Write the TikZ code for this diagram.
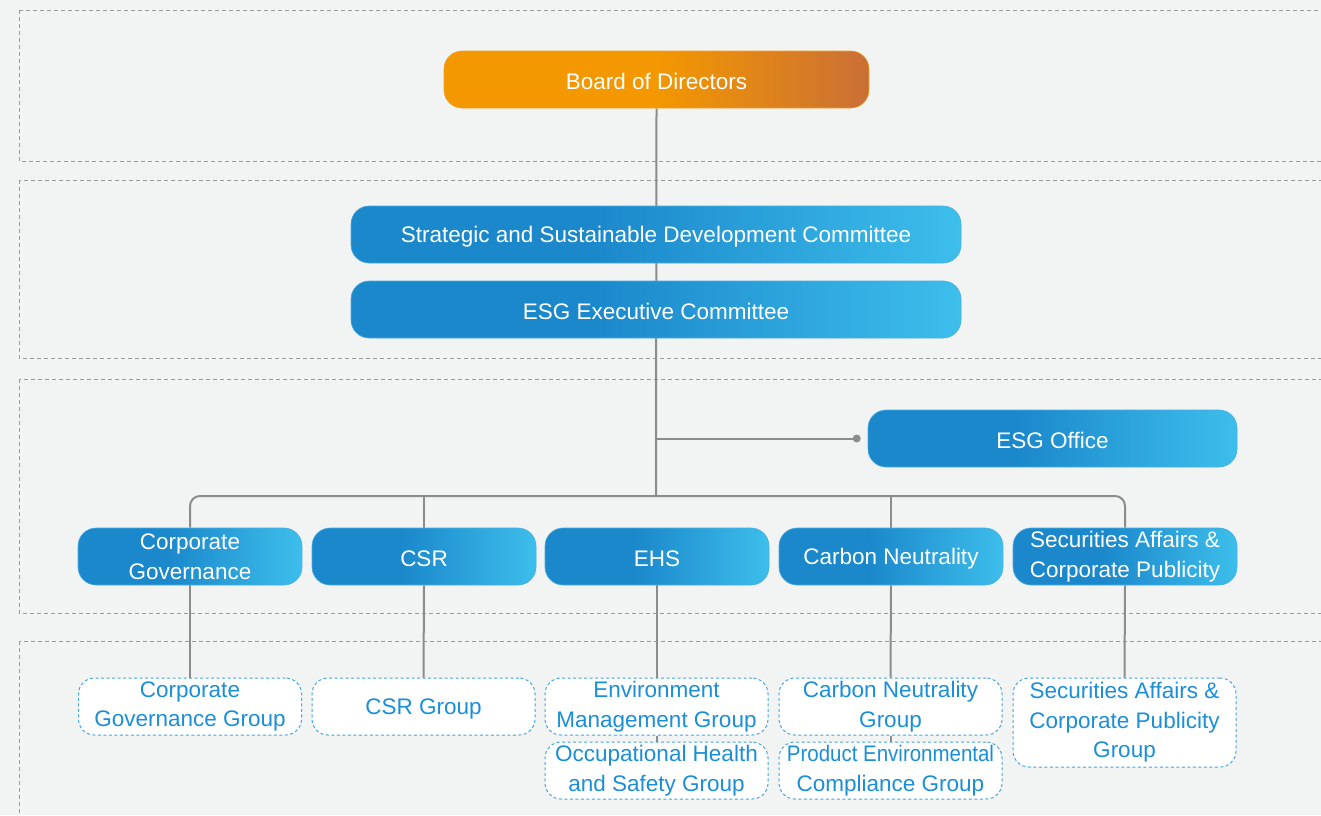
\documentclass[tikz,border=0pt]{standalone}
\usepackage{fontspec}
\setmainfont{Liberation Sans}
\usetikzlibrary{backgrounds}
\definecolor{bgcol}{HTML}{F2F3F3}
\definecolor{bandcol}{HTML}{9A9A9A}
\definecolor{conncol}{HTML}{8C8C8C}
\definecolor{blueA}{HTML}{1B88CB}
\definecolor{blueB}{HTML}{3DBEEB}
\definecolor{blueEdge}{HTML}{4AAEE2}
\definecolor{orA}{HTML}{F39800}
\definecolor{orB}{HTML}{CA6F36}
\definecolor{orEdge}{HTML}{F2A020}
\definecolor{grpText}{HTML}{1A8FD8}
\definecolor{grpEdge}{HTML}{45A5DF}
\pgfdeclarehorizontalshading{blueshade}{100bp}{color(0bp)=(blueA); color(25bp)=(blueA); color(45bp)=(blueA); color(75bp)=(blueB); color(100bp)=(blueB)}
\pgfdeclarehorizontalshading{orshade}{100bp}{color(0bp)=(orA); color(25bp)=(orA); color(50bp)=(orA); color(75bp)=(orB); color(100bp)=(orB)}
\tikzset{
  txt/.style={font=\fontsize{22.5}{29.5}\selectfont, align=center, inner sep=2pt, execute at begin node={\rule{0pt}{20pt}}},
  bluebox/.style={txt, shading=blueshade, draw=blueEdge, line width=0.6pt, rounded corners=18pt, text=white, minimum height=57pt},
  orbox/.style={txt, shading=orshade, draw=orEdge, line width=0.6pt, rounded corners=18pt, text=white, minimum height=57pt},
  grpbox/.style={txt, draw=grpEdge, line width=1pt, dash pattern=on 3pt off 2.5pt, fill=white, rounded corners=16pt, text=grpText, minimum width=223pt, minimum height=57pt},
  band/.style={draw=bandcol, line width=0.8pt, dash pattern=on 4pt off 3pt},
  conn/.style={draw=conncol, line width=2pt},
}
\begin{document}
\begin{tikzpicture}[x=1pt,y=-1pt]
\useasboundingbox (0,0) rectangle (1321,815);
\clip (0,0) rectangle (1321,815);
% nodes
\node[orbox, minimum width=425pt] (board) at (656.5,79.5) {Board of Directors};
\node[bluebox, minimum width=610pt] (strat) at (656,234.5) {Strategic and Sustainable Development Committee};
\node[bluebox, minimum width=610pt] (exec) at (656,309.5) {ESG Executive Committee};
\node[bluebox, minimum width=369pt] (office) at (1052.5,438.5) {ESG Office};
\node[bluebox, minimum width=224pt] (cg) at (190,556.5) {Corporate\\Governance};
\node[bluebox, minimum width=224pt] (csr) at (424,556.5) {CSR};
\node[bluebox, minimum width=224pt] (ehs) at (657,556.5) {EHS};
\node[bluebox, minimum width=224pt] (cn) at (891,556.5) {Carbon Neutrality};
\node[bluebox, minimum width=224pt] (sa) at (1125,556.5) {Securities Affairs \&\\Corporate Publicity};
\node[grpbox] (cgg) at (190,706.5) {Corporate\\Governance Group};
\node[grpbox] (csrg) at (423.5,706.5) {CSR Group};
\node[grpbox] (emg) at (656.5,706.5) {Environment\\Management Group};
\node[grpbox] (ohs) at (656.5,770.5) {Occupational Health\\and Safety Group};
\node[grpbox] (cng) at (890.5,706.5) {Carbon Neutrality\\Group};
\node[grpbox] (pec) at (890.5,770.5) {\scalebox{0.91}[1]{Product Environmental}\\Compliance Group};
\node[grpbox, minimum height=89pt] (sag) at (1124.5,722.5) {Securities Affairs \&\\Corporate Publicity\\Group};
\coordinate (bus) at (656,496);
\coordinate (dot) at ([xshift=-11pt]office.west);
\begin{pgfonlayer}{background}
\fill[bgcol] (0,0) rectangle (1321,815);
\draw[band] (19,10) rectangle (1340,161);
\draw[band] (19,180) rectangle (1340,358);
\draw[band] (19,379) rectangle (1340,613);
\draw[band] (19,641) rectangle (1340,840);
\draw[conn] (board.south) -- (bus);
\draw[conn] (exec.south |- dot) -- (dot);
\fill[conncol] (dot) circle (4pt);
\draw[conn, rounded corners=10pt] (cg.north) -- (cg.north |- bus) -- (sa.north |- bus) -- (sa.north);
\draw[conn] (csr.north |- bus) -- (csr.north);
\draw[conn] (cn.north |- bus) -- (cn.north);
\draw[conn] (cg.south) -- (cgg.north);
\draw[conn] (csr.south) -- (csrg.north);
\draw[conn] (ehs.south -| emg.north) -- (emg.north);
\draw[conn] (emg.south) -- (ohs.north);
\draw[conn] (cn.south) -- (cng.north);
\draw[conn] (cng.south) -- (pec.north);
\draw[conn] (sa.south) -- (sag.north);
\end{pgfonlayer}
\end{tikzpicture}
\end{document}
